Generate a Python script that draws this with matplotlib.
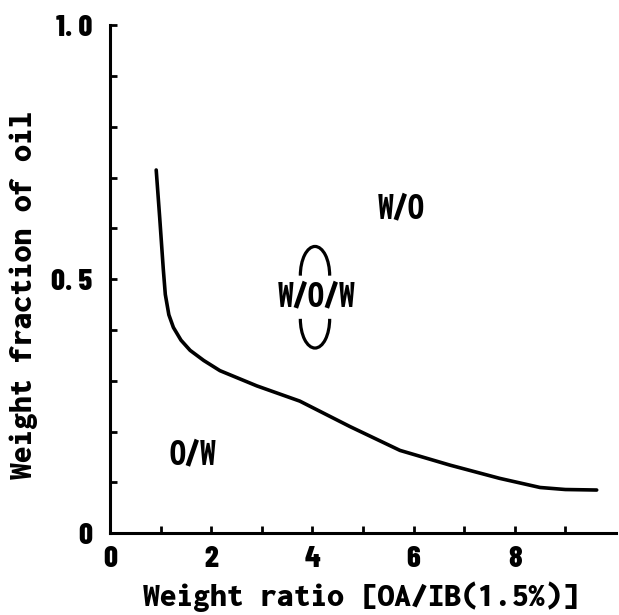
import matplotlib
matplotlib.use("Agg")
import matplotlib.pyplot as plt
from matplotlib.patches import Arc
import numpy as np

# boundary curve between O/W and W/O regions
ratio = [0.91, 0.98, 1.05, 1.09, 1.16, 1.25, 1.40, 1.58, 1.85, 2.17, 2.9, 3.75, 4.74, 5.73, 6.72, 7.7, 8.5, 9.0, 9.62]
frac = [0.715, 0.62, 0.52, 0.47, 0.43, 0.405, 0.38, 0.36, 0.34, 0.32, 0.29, 0.26, 0.21, 0.163, 0.134, 0.108, 0.09, 0.086, 0.085]

region_labels = ["W/O", "W/O/W", "O/W"]
region_x = [5.75, 4.08, 1.64]
region_y = [0.638, 0.465, 0.154]

xticks = [0, 2, 4, 6, 8]
xtick_labels = ["0", "2", "4", "6", "8"]
yticks = [0, 0.5, 1.0]
ytick_labels = ["0", "0. 5", "1. 0"]

MONO = ["Inconsolata", "DejaVu Sans Mono"]
TICKF = ["Barlow Condensed", "DejaVu Sans"]

fig = plt.figure(figsize=(6.19, 6.15), dpi=100)
ax = fig.add_axes([0.178, 0.133, 0.817, 0.826])

ax.plot(ratio, frac, color="black", linewidth=2.6, solid_capstyle="round")

for lab, x, y in zip(region_labels, region_x, region_y):
    ax.text(x, y, lab, ha="center", va="center", fontsize=28, fontweight=900,
            family=MONO, fontstretch="condensed")

# brackets above and below W/O/W
ax.add_patch(Arc((4.05, 0.507), 0.58, 0.115, theta1=0, theta2=180, color="black", linewidth=2.3))
ax.add_patch(Arc((4.05, 0.422), 0.58, 0.115, theta1=180, theta2=360, color="black", linewidth=2.3))

ax.set_xlim(0, 10)
ax.set_ylim(0, 1.0)
ax.set_xticks(xticks)
ax.set_xticklabels(xtick_labels)
ax.set_xticks(np.arange(1, 10, 1), minor=True)
ax.set_yticks(yticks)
ax.set_yticklabels(ytick_labels)
ax.set_yticks(np.arange(0.1, 1.0, 0.1), minor=True)

for s in ["top", "right"]:
    ax.spines[s].set_visible(False)
for s in ["left", "bottom"]:
    ax.spines[s].set_linewidth(2.2)

ax.tick_params(which="both", direction="in", length=5, width=2.0)
ax.tick_params(axis="x", which="major", pad=9)
ax.tick_params(axis="y", which="major", pad=13)
for t in ax.get_xticklabels() + ax.get_yticklabels():
    t.set_fontweight(800)
    t.set_family(TICKF)
    t.set_fontsize(22)

ax.set_xlabel("Weight ratio [OA/IB(1.5%)]", fontsize=24, fontweight=900, family=MONO)
ax.set_ylabel("Weight fraction of oil", fontsize=24, fontweight=900, family=MONO)
ax.xaxis.set_label_coords(0.496, -0.094)
ax.yaxis.set_label_coords(-0.142, 0.47)

fig.savefig("out.png", dpi=100)
